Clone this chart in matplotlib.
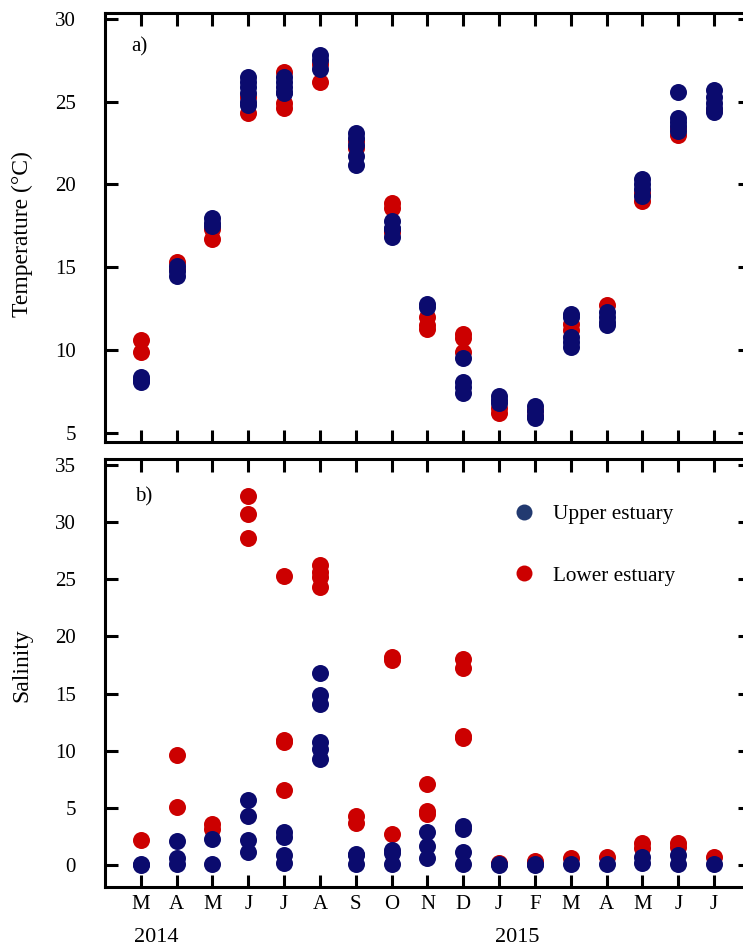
import matplotlib.pyplot as plt
import matplotlib.transforms as mtransforms
from matplotlib.lines import Line2D

plt.rcParams['font.family'] = ['Liberation Serif', 'DejaVu Serif']
plt.rcParams.update({'font.size': 15})

months = ['M', 'A', 'M', 'J', 'J', 'A', 'S', 'O', 'N', 'D', 'J', 'F', 'M', 'A', 'M', 'J', 'J']

# temperature (deg C) per month, several stations each
temp_upper = [
    [8.4, 8.2, 8.1],
    [15.1, 14.8, 14.5],
    [18.0, 17.7, 17.5],
    [26.5, 26.2, 25.9, 25.5, 25.0, 24.8],
    [26.5, 26.2, 25.9, 25.6, 25.5],
    [27.8, 27.5, 27.0],
    [23.1, 22.8, 22.4, 21.7, 21.2],
    [17.8, 17.4, 17.3, 16.8],
    [12.8, 12.6],
    [9.5, 8.1, 7.8, 7.4],
    [7.2, 7.0, 6.8],
    [6.6, 6.3, 6.0, 5.9],
    [12.2, 12.0, 10.8, 10.5, 10.2],
    [12.3, 12.0, 11.7, 11.5],
    [20.3, 20.0, 19.7, 19.3],
    [25.6, 24.0, 23.8, 23.5, 23.2],
    [25.7, 25.3, 24.9, 24.6, 24.4],
]
temp_lower = [
    [10.6, 9.9],
    [15.3, 14.9],
    [17.3, 16.7],
    [24.3, 25.3],
    [26.8, 24.6, 24.9],
    [26.2, 27.3],
    [22.2, 22.6],
    [18.9, 18.6, 17.1],
    [12.0, 11.3, 11.5],
    [11.0, 10.7, 9.9],
    [6.2, 6.5],
    [6.0, 6.4],
    [11.6, 11.2],
    [12.7],
    [19.0, 19.5],
    [23.0, 23.4],
    [24.5],
]

# salinity per month
sal_upper = [
    [0.1, 0.0],
    [2.1, 0.6, 0.1],
    [2.3, 0.1],
    [5.7, 4.3, 2.2, 1.2],
    [2.9, 2.5, 0.9, 0.2],
    [16.8, 14.9, 14.1, 10.8, 10.2, 9.3],
    [1.0, 0.9, 0.1],
    [1.3, 1.1, 0.1],
    [2.9, 1.7, 0.6],
    [3.4, 3.2, 1.2, 0.1],
    [0.1, 0.0],
    [0.1, 0.0],
    [0.1],
    [0.1],
    [0.7, 0.2],
    [0.9, 0.1],
    [0.1],
]
sal_lower = [
    [2.2],
    [9.6, 5.1],
    [3.6, 3.2],
    [32.3, 30.7, 28.6],
    [25.3, 10.8, 10.9, 6.6],
    [26.2, 25.6, 25.2, 24.3],
    [4.3, 3.7],
    [18.2, 17.9, 2.7],
    [7.1, 4.7, 4.5],
    [18.0, 17.2, 11.3, 11.1],
    [0.2],
    [0.4],
    [0.6],
    [0.7],
    [1.9, 1.5],
    [1.9, 1.6],
    [0.7],
]

navy = '#0b0b6e'
red = '#cc0000'


def flatten(groups):
    xs, ys = [], []
    for i, g in enumerate(groups):
        xs += [i] * len(g)
        ys += g
    return xs, ys


fig = plt.figure(figsize=(7.43, 9.52), dpi=100)
ax1 = fig.add_axes([0.1413, 0.5357, 0.868, 0.4506])
ax2 = fig.add_axes([0.1413, 0.0683, 0.868, 0.4496])

for ax, lower, upper in [(ax1, temp_lower, temp_upper), (ax2, sal_lower, sal_upper)]:
    x, y = flatten(lower)
    ax.scatter(x, y, s=150, color=red, linewidths=0, zorder=2)
    x, y = flatten(upper)
    ax.scatter(x, y, s=150, color=navy, linewidths=0, zorder=3)
    ax.set_xlim(-1, 17)
    ax.set_xticks(range(len(months)))
    for s in ax.spines.values():
        s.set_linewidth(2.2)
    ax.tick_params(direction='in', length=9, width=2.2, top=True, right=True)
    ax.tick_params(axis='y', pad=21)
    ax.tick_params(axis='x', pad=6)

ax1.set_ylim(4.45, 30.35)
ax1.set_yticks([5, 10, 15, 20, 25, 30])
ax1.set_xticklabels([])
ax1.set_ylabel('Temperature (°C)', fontsize=17)
ax1.yaxis.set_label_coords(-0.112, 0.485)
ax1.text(0.04, 0.91, 'a)', transform=ax1.transAxes)

ax2.set_ylim(-1.9, 35.5)
ax2.set_yticks([0, 5, 10, 15, 20, 25, 30, 35])
ax2.set_xticklabels(months)
ax2.set_ylabel('Salinity', fontsize=17)
ax2.yaxis.set_label_coords(-0.112, 0.519)
ax2.text(0.047, 0.9, 'b)', transform=ax2.transAxes)

trans = mtransforms.blended_transform_factory(ax2.transData, ax2.transAxes)
ax2.text(0.43, -0.119, '2014', transform=trans, ha='center', va='center', fontsize=16)
ax2.text(10.5, -0.119, '2015', transform=trans, ha='center', va='center', fontsize=16)

handles = [
    Line2D([], [], marker='o', linestyle='none', markersize=11.5, color='#223a70',
           markeredgewidth=0, label='Upper estuary'),
    Line2D([], [], marker='o', linestyle='none', markersize=11.5, color=red,
           markeredgewidth=0, label='Lower estuary'),
]
ax2.legend(handles=handles, loc='upper left', bbox_to_anchor=(0.634, 0.894), frameon=False,
           borderpad=0, borderaxespad=0, handlelength=1.0, handletextpad=0.85,
           labelspacing=1.95, fontsize=15.3)

fig.savefig('out.png', dpi=100)
